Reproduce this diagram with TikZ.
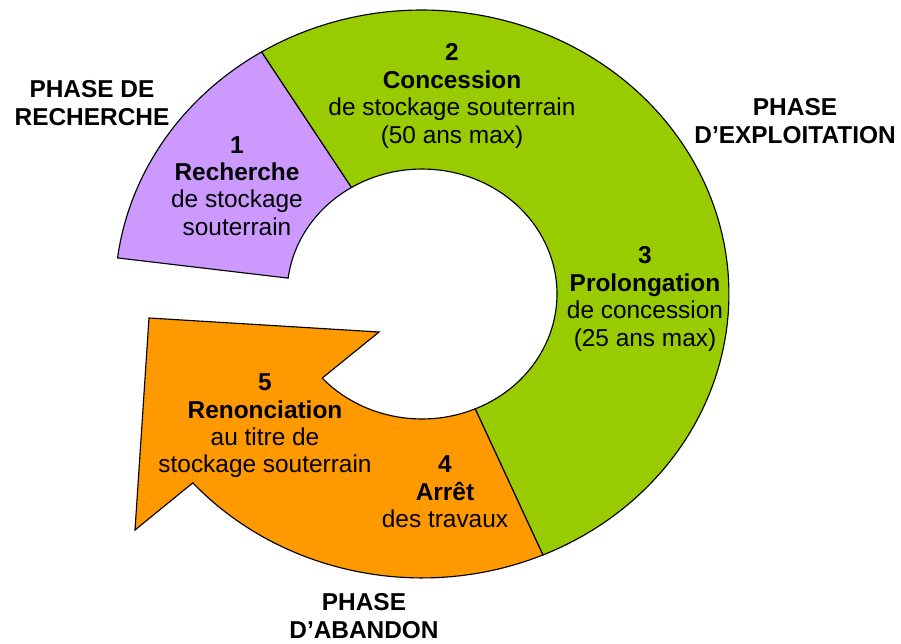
\documentclass[tikz,border=0pt]{standalone}
\usepackage{fontspec}
\setmainfont{Liberation Sans}
\usetikzlibrary{calc}
\definecolor{cpurple}{HTML}{CC99FF}
\definecolor{cgreen}{HTML}{99CC00}
\definecolor{corange}{HTML}{FF9900}
\begin{document}
\begin{tikzpicture}[x=0.02cm,y=0.02cm,
  seg/.style={draw=black, line width=0.65pt, line join=miter},
  lbl/.style={align=center, inner sep=0pt, font=\fontsize{13.9}{15.6}\selectfont},
  phase/.style={align=center, inner sep=0pt, font=\fontsize{13.9}{15.6}\selectfont\bfseries}]
\useasboundingbox (0,0) rectangle (901,643);
\coordinate (C) at (422,349);
% purple segment
\draw[seg, fill=cpurple] ($(C)+(172.7:6.14cm and 5.68cm)$)
  arc[start angle=172.7, end angle=121.5, x radius=6.14cm, y radius=5.68cm]
  -- ($(C)+(121.5:2.7cm and 2.5cm)$)
  arc[start angle=121.5, end angle=172.7, x radius=2.7cm, y radius=2.5cm] -- cycle;
% green segment
\draw[seg, fill=cgreen] ($(C)+(121.5:6.14cm and 5.68cm)$)
  arc[start angle=121.5, end angle=-66.8, x radius=6.14cm, y radius=5.68cm]
  -- ($(C)+(-66.8:2.7cm and 2.5cm)$)
  arc[start angle=-66.8, end angle=121.5, x radius=2.7cm, y radius=2.5cm] -- cycle;
% orange segment with arrow head
\coordinate (barbA) at (135,113);
\coordinate (tip) at (149,325);
\coordinate (barbB) at (379,311);
\draw[seg, fill=corange] ($(C)+(-66.8:6.14cm and 5.68cm)$)
  arc[start angle=-66.8, end angle=-138.3, x radius=6.14cm, y radius=5.68cm]
  -- (barbA) -- (tip) -- (barbB)
  -- ($(C)+(-137.7:2.7cm and 2.5cm)$)
  arc[start angle=-137.7, end angle=-66.8, x radius=2.7cm, y radius=2.5cm] -- cycle;
% labels
\node[phase] (phR) at (92,540) {PHASE DE\\RECHERCHE};
\node[phase] (phE) at (795,522) {PHASE\\D’EXPLOITATION};
\node[phase] (phA) at (364,27) {PHASE\\D’ABANDON};
\node[lbl] (s1) at (237,457) {\textbf{1}\\\textbf{Recherche}\\de stockage\\souterrain};
\node[lbl] (s2) at (452,547) {\textbf{2}\\\textbf{Concession}\\de stockage souterrain\\(50 ans max)};
\node[lbl] (s3) at (645,344) {\textbf{3}\\\textbf{Prolongation}\\de concession\\(25 ans max)};
\node[lbl] (s4) at (445,151) {\textbf{4}\\\textbf{Arrêt}\\des travaux};
\node[lbl] (s5) at (265,217) {\textbf{5}\\\textbf{Renonciation}\\au titre de\\stockage souterrain};
\end{tikzpicture}
\end{document}
